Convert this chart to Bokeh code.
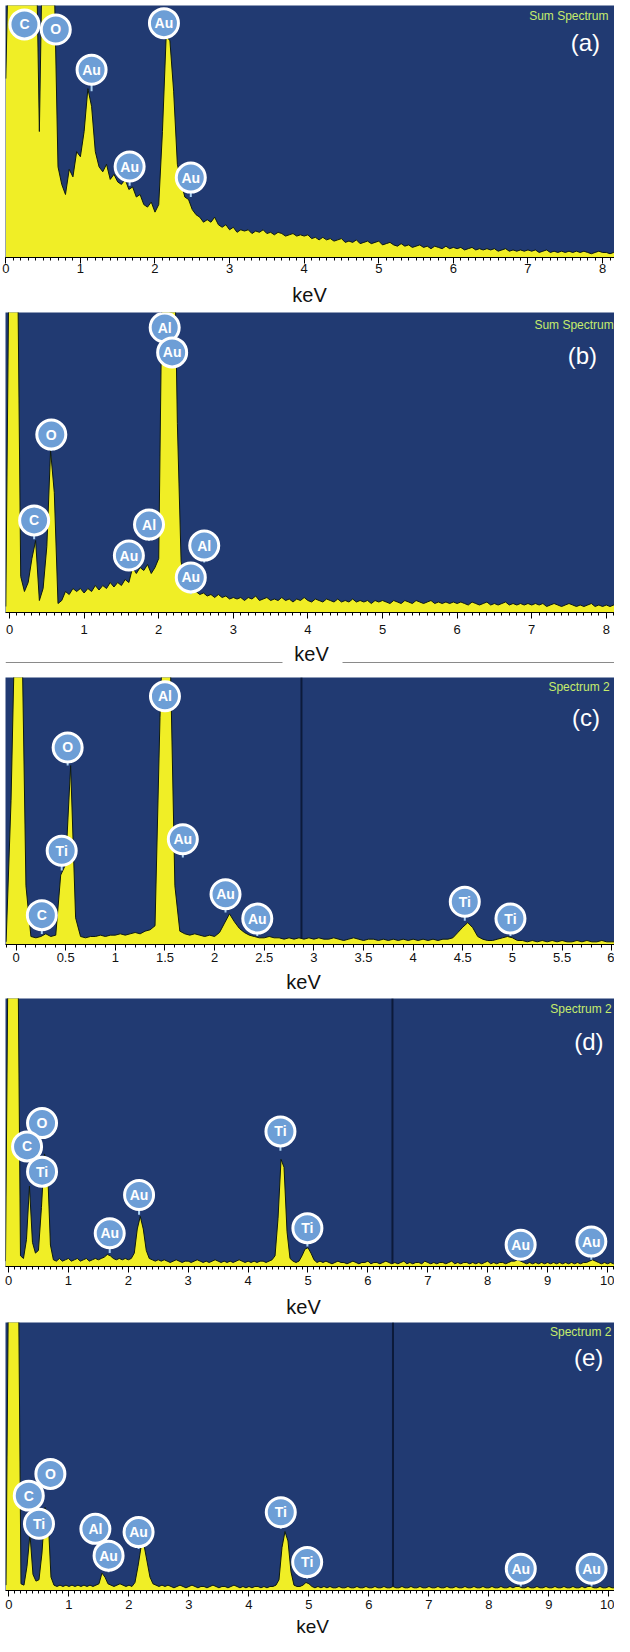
from bokeh.plotting import figure
from bokeh.layouts import column
from bokeh.models import Range1d, SingleIntervalTicker, CustomJSTickFormatter
from bokeh.core.properties import value
from bokeh.embed import file_html
from bokeh.resources import INLINE

# ---------------- data (counts in % of full scale, 0.05 keV channels) ----------------
STEP = 0.05

a_lead = []
a_counts = [71, 140, 140, 140, 140, 140, 140, 140, 140, 50,
            140, 140, 140, 110, 36, 29, 25, 35, 32, 42,
            40, 50, 67, 60, 42, 36, 34, 37, 31, 33,
            30, 29, 31, 27, 28, 24, 25, 21, 20, 22,
            18, 21, 50, 88, 86, 66, 37, 30, 24, 23,
            19, 17, 16, 14, 15, 14, 16, 13, 12, 13,
            11, 12, 10, 11, 10.5, 11, 9.5, 10.5, 10, 11,
            9.5, 10, 9, 10, 9.5, 8.5, 9, 9.5, 8.5, 9,
            8.5, 9, 7.5, 8, 7, 8, 7, 7.5, 6.5, 7,
            7.5, 6, 6.5, 6, 7, 5.5, 6, 6.5, 5.5, 6,
            6.5, 5, 5.5, 6, 5, 4.5, 5.5, 4.5, 5, 4,
            4.5, 5, 4, 4.5, 3.5, 4.5, 4, 3.5, 4.5, 3.5,
            4, 3.5, 4, 3, 3.5, 4, 3, 3.5, 3, 3.5,
            3, 3.5, 2.5, 3, 3.5, 2.5, 3, 2.5, 3, 2.5,
            3, 2.5, 3, 2, 2.5, 3, 2, 2.5, 2, 2.5,
            2, 2.5, 2, 2.5, 2, 2.5, 2, 1.5, 2, 2.5,
            2, 2, 1.5, 2, 2]
a_lab_text = ["C", "O", "Au", "Au", "Au", "Au"]
a_lab_x = [0.25, 0.67, 2.12, 1.15, 1.66, 2.48]
a_lab_y = [92.5, 90.5, 93.0, 74.5, 36.1, 31.7]
a_lab_tip = [92.5, 90.5, 88.0, 66.0, 28.5, 24.0]

b_lead = [2]
b_counts = [140, 140, 140, 12, 7, 10, 18, 24, 4, 8,
            22, 54, 40, 3, 4, 7, 6, 8, 7, 8,
            6.5, 8, 7, 9, 7.5, 9, 8, 10, 8.5, 10,
            9, 11, 10, 15, 13, 15, 14, 16, 13, 15,
            18, 120, 140, 140, 140, 63, 17, 10, 9, 8,
            7, 6, 6.5, 5.5, 6, 5, 6, 5, 5.5, 4.5,
            5, 4.5, 5, 4, 5, 4.5, 5.5, 4, 4.5, 5,
            4, 4.5, 4, 5, 4, 4.5, 3.5, 4.5, 4, 5,
            4, 3.5, 4.5, 4, 3.5, 4.5, 4, 3.5, 4.5, 3.5,
            4, 3.5, 4.5, 3.5, 4, 3.5, 4, 3, 4, 3.5,
            4, 3.5, 3, 4, 3.5, 3, 4, 3.5, 3, 4,
            3.5, 3, 3.5, 4, 3, 3.5, 3, 3.5, 3, 3.5,
            3, 3.5, 3, 2.5, 3.5, 3, 2.5, 3, 3.5, 2.5,
            3, 2.5, 3, 3.5, 2.5, 3, 2.5, 3, 2.5, 3,
            2.5, 3, 2.5, 3, 2, 2.5, 3, 2.5, 2, 2.5,
            3, 2.5, 2, 2.5, 2, 2.5, 3, 2, 2.5, 2,
            2.5, 2, 2.5, 2, 2.5]
b_lab_text = ["Al", "Au", "O", "C", "Al", "Au", "Al", "Au"]
b_lab_x = [2.08, 2.18, 0.56, 0.33, 1.87, 1.60, 2.61, 2.43]
b_lab_y = [95.0, 86.7, 59.3, 30.7, 29.3, 19.0, 22.3, 11.7]
b_lab_tip = [95.0, 86.7, 53.9, 24.4, 23.9, 13.9, 16.7, 6.1]

c_lead = [1, 54]
c_counts = [140, 140, 22, 3, 2.5, 3, 4, 3, 3.5, 26,
            30, 67, 10, 3, 2.5, 3, 3, 3.5, 3, 3.5,
            3.5, 4, 3.5, 4, 4.5, 4, 5, 5.5, 7, 85,
            140, 115, 22, 5, 4, 3.5, 4, 3.5, 3, 3.5,
            3, 4.5, 8, 11.5, 8.5, 6, 4.5, 3.5, 3, 2.5,
            2.5, 3, 2.5, 2.5, 2, 2.5, 2, 2.5, 2, 2.5,
            2, 2.5, 2, 2, 2.5, 2, 1.5, 2, 2.5, 2,
            1.5, 2, 2, 1.5, 2, 1.5, 2, 1.5, 2, 1.5,
            2, 1.5, 2, 1.5, 2, 1.5, 2, 2, 2.5, 4.5,
            6.5, 8.2, 6.3, 3, 2, 1.5, 1.5, 2, 2.5, 3,
            2.5, 1.5, 1.5, 1, 1.5, 1, 1.5, 1, 1.5, 1,
            1.5, 1, 1, 1.5, 1, 1.5, 1, 1, 1.5, 1,
            1, 1]
c_lab_text = ["Al", "O", "Ti", "C", "Au", "Au", "Au", "Ti", "Ti"]
c_lab_x = [1.50, 0.52, 0.46, 0.26, 1.68, 2.11, 2.43, 4.52, 4.98]
c_lab_y = [93.0, 73.8, 35.1, 11.0, 39.4, 18.8, 9.7, 16.0, 9.7]
c_lab_tip = [90.0, 67.0, 27.7, 3.9, 32.6, 12.0, 3.2, 8.9, 3.2]

d_lead = [2]
d_counts = [140, 140, 140, 140, 4, 3, 10, 30, 9, 5,
            6, 22, 42, 38, 8, 2.5, 2, 3, 2, 2.5,
            3, 2, 2.5, 3, 2, 2.5, 3, 2, 2.5, 3,
            2.5, 3, 3.5, 4.5, 4, 3, 2.5, 3, 2.5, 3,
            2.5, 3, 5, 14, 18.7, 14, 6, 3, 2.5, 2,
            2.5, 2, 2.5, 2, 1.5, 2, 2.5, 2, 1.5, 2,
            2, 1.5, 2, 2.5, 2, 1.5, 2, 1.5, 2, 2.5,
            2, 1.5, 2, 1.5, 2, 1.5, 2, 2.5, 2, 1.5,
            2, 1.5, 2, 1.5, 2, 2, 1.5, 2, 2.5, 4,
            18, 40, 37, 13, 3, 2, 1.5, 2, 4, 6.5,
            7, 5, 2.5, 1.5, 2, 1.5, 2, 1.5, 1, 1.5,
            2, 1.5, 1.5, 1, 1.5, 2, 1.5, 1, 1.5, 1.5,
            2, 1, 1.5, 1.5, 1, 1.5, 2, 1.5, 1, 1.5,
            1, 1.5, 2, 1, 1.5, 1, 1.5, 1.5, 1, 2,
            1.5, 1, 1.5, 1, 1.5, 1.5, 1, 1.5, 2, 1,
            1.5, 1, 1.5, 1.5, 1, 1.5, 1, 1.5, 1, 1.5,
            2, 1, 1.5, 1, 1.5, 1.5, 1, 1.5, 2, 2,
            2.5, 2, 1.5, 1, 1.5, 1, 1.5, 1, 1.5, 1,
            1.5, 1, 1.5, 1, 1.5, 1, 1.5, 1, 1.5, 1,
            1.5, 1, 1.5, 1.5, 2, 2.5, 2, 1.5, 1, 1.5,
            1, 1.5, 1, 1, 1.5]
d_lab_text = ["O", "C", "Ti", "Au", "Au", "Ti", "Ti", "Au", "Au"]
d_lab_x = [0.56, 0.31, 0.56, 1.69, 2.18, 4.54, 4.99, 8.55, 9.73]
d_lab_y = [53.5, 44.8, 35.4, 12.4, 26.7, 50.4, 14.3, 8.1, 9.3]
d_lab_tip = [53.5, 44.8, 35.4, 5.0, 19.3, 43.2, 7.5, 2.5, 2.5]

e_lead = [2]
e_counts = [140, 140, 140, 140, 2.5, 2, 9, 21, 6, 3.5,
            4, 14, 31, 28, 5, 2, 1.5, 2, 1.5, 2,
            1.5, 2, 1.5, 2, 1.5, 2, 1.5, 2, 1.5, 2,
            2.5, 6.5, 5, 2.5, 2, 1.5, 2, 2.5, 2, 1.5,
            2, 1.5, 3, 9, 16, 17, 11, 5, 2.5, 2,
            1.5, 2, 1.5, 2, 1.5, 1, 1.5, 2, 1.5, 1,
            1.5, 2, 1.5, 1, 1.5, 1.5, 1, 1.5, 2, 1.5,
            1, 1.5, 1.5, 1, 1.5, 2, 1.5, 1, 1.5, 1,
            1.5, 1, 1.5, 1.5, 1, 1.5, 1, 1.5, 1.5, 2,
            4, 16, 22, 18.5, 7, 2, 1.5, 1.5, 2, 3,
            2.5, 1.5, 1, 1.5, 1, 1.5, 1, 1.5, 1, 1,
            1.5, 1, 1, 1.5, 1, 1, 1.5, 1, 1, 1.5,
            1, 1, 1.5, 1, 1, 1.5, 1, 1, 1.5, 1,
            1, 1.5, 1, 1, 1.5, 1, 1, 1.5, 1, 1,
            1.5, 1, 1, 1.5, 1, 1, 1.5, 1, 1, 1.5,
            1, 1, 1.5, 1, 1, 1.5, 1, 1, 1.5, 1,
            1, 1.5, 1, 1, 1.5, 1, 1, 1.5, 1, 1.5,
            1.5, 1, 1, 1.5, 1, 1, 1.5, 1, 1, 1.5,
            1, 1, 1.5, 1, 1, 1.5, 1, 1, 1.5, 1,
            1, 1.5, 1, 1.5, 1.5, 1, 1, 1.5, 1, 1,
            1.5, 1, 1, 1.5]
e_lab_text = ["O", "C", "Ti", "Al", "Au", "Au", "Ti", "Ti", "Au", "Au"]
e_lab_x = [0.69, 0.33, 0.50, 1.44, 1.66, 2.16, 4.53, 4.97, 8.53, 9.71]
e_lab_y = [43.5, 35.4, 24.9, 23.0, 13.0, 21.8, 29.2, 10.6, 8.1, 8.1]
e_lab_tip = [43.5, 35.4, 24.9, 23.0, 6.8, 15.5, 23.0, 4.4, 1.5, 1.5]

spectrum_names = ["Sum Spectrum", "Sum Spectrum", "Spectrum 2", "Spectrum 2", "Spectrum 2"]
panel_tags = ["(a)", "(b)", "(c)", "(d)", "(e)"]
x_unit = "keV"

# ---------------- styles ----------------
FONT = "Liberation Sans"
NAVY = "#213a72"
YELLOW = "#f0ee26"
OUTLINE = "#0e1a12"
BUBBLE = "#6d9ed6"
STEM = "#a9d0f2"
NAME_COLOR = "#c6ec6c"
PAGE_W = 614


def make_panel(lead, counts, xr, frame_h, left, top, bottom, interval, minor, standoff,
               lab_text, lab_x, lab_y, lab_tip, name, name_xy, tag, tag_xy, vline=None):
    ys = list(lead) + list(counts)
    e0 = -STEP * len(lead)
    xs = [round(e0 + i * STEP, 4) for i in range(len(ys))]
    p = figure(frame_width=PAGE_W - left, frame_height=frame_h,
               x_range=Range1d(*xr), y_range=Range1d(0, 100),
               min_border_left=left, min_border_right=0,
               min_border_top=top, min_border_bottom=bottom,
               toolbar_location=None, output_backend="svg", title=None,
               y_axis_location=None, background_fill_color=NAVY,
               border_fill_color="white", outline_line_color=None)
    p.grid.visible = False
    if vline is not None:
        p.segment(x0=[vline], y0=[0], x1=[vline], y1=[100],
                  line_color="#0c1a3a", line_width=2)
    p.varea(x=xs, y1=[0] * len(ys), y2=ys, fill_color=YELLOW)
    p.line(x=xs, y=ys, line_color=OUTLINE, line_width=1)

    p.segment(x0=lab_x, y0=lab_y, x1=lab_x, y1=lab_tip, line_color=STEM, line_width=2)
    p.scatter(x=lab_x, y=lab_y, marker="circle", size=29, fill_color=BUBBLE,
              line_color="white", line_width=3)
    p.text(x=lab_x, y=lab_y, text=lab_text, text_color="white",
           text_font=value(FONT), text_font_style="bold", text_font_size="14px",
           text_align="center", text_baseline="middle")

    p.text(x=[name_xy[0]], y=[name_xy[1]], text=[name], text_color=NAME_COLOR,
           text_font=value(FONT), text_font_size="12px",
           text_align="right", text_baseline="middle")
    p.text(x=[tag_xy[0]], y=[tag_xy[1]], text=[tag], text_color="white",
           text_font=value(FONT), text_font_size="24px",
           text_align="center", text_baseline="middle")

    ax = p.xaxis[0]
    ax.ticker = SingleIntervalTicker(interval=interval, num_minor_ticks=minor)
    ax.formatter = CustomJSTickFormatter(code="return String(Math.round(tick*10)/10);")
    ax.axis_line_color = "black"
    ax.axis_line_width = 1
    ax.major_tick_line_color = "black"
    ax.minor_tick_line_color = "black"
    ax.major_tick_in = 0
    ax.major_tick_out = 6
    ax.minor_tick_in = 0
    ax.minor_tick_out = 3
    ax.major_label_standoff = standoff
    ax.major_label_text_font = FONT
    ax.major_label_text_font_size = "13px"
    ax.major_label_text_color = "#111111"
    return p


def make_kev(h, cx, cy, lines=False, size="20px"):
    k = figure(frame_width=PAGE_W, frame_height=h,
               x_range=Range1d(8, 8 + PAGE_W), y_range=Range1d(0, h),
               min_border=0, toolbar_location=None, output_backend="svg", title=None,
               x_axis_location=None, y_axis_location=None,
               background_fill_color="white", border_fill_color="white",
               outline_line_color=None)
    k.grid.visible = False
    if lines:
        k.segment(x0=[8, 345], y0=[6, 6], x1=[285, 8 + PAGE_W], y1=[6, 6],
                  line_color="#8a8a8a", line_width=1)
    k.text(x=[cx], y=[cy], text=[x_unit], text_color="#111111",
           text_font=value(FONT), text_font_size=size,
           text_align="center", text_baseline="middle")
    return k


pa = make_panel(a_lead, a_counts, (-0.004, 8.16), 252, 5, 5, 25, 1, 10, 0,
                a_lab_text, a_lab_x, a_lab_y, a_lab_tip,
                spectrum_names[0], (8.08, 95.9), panel_tags[0], (7.77, 85.3))
ka = make_kev(26, 312, 14)

pb = make_panel(b_lead, b_counts, (-0.054, 8.177), 300, 0, 4, 30, 1, 10, 6,
                b_lab_text, b_lab_x, b_lab_y, b_lab_tip,
                spectrum_names[1], (8.10, 96.0), panel_tags[1], (7.68, 85.7))
kb = make_kev(26, 314, 14.5, lines=True)

pc = make_panel(c_lead, c_counts, (-0.106, 6.038), 267, 4, 9, 25, 0.5, 5, 2,
                c_lab_text, c_lab_x, c_lab_y, c_lab_tip,
                spectrum_names[2], (5.98, 96.3), panel_tags[2], (5.74, 85.0), vline=2.875)
kc = make_kev(25, 306, 12.5)

pd_ = make_panel(d_lead, d_counts, (-0.05, 10.167), 268, 2, 4, 28, 1, 10, 3,
                 d_lab_text, d_lab_x, d_lab_y, d_lab_tip,
                 spectrum_names[3], (10.07, 95.9), panel_tags[3], (9.69, 84.0), vline=6.41)
kd = make_kev(24, 306, 12)

pe = make_panel(e_lead, e_counts, (-0.058, 10.142), 268, 2, 4, 25, 1, 10, 3,
                e_lab_text, e_lab_x, e_lab_y, e_lab_tip,
                spectrum_names[4], (10.04, 96.4), panel_tags[4], (9.66, 87.0), vline=6.40)
ke = make_kev(21, 315, 10.5, size="19px")

layout = column(pa, ka, pb, kb, pc, kc, pd_, kd, pe, ke)
open("out.html", "w").write(file_html(layout, INLINE))
